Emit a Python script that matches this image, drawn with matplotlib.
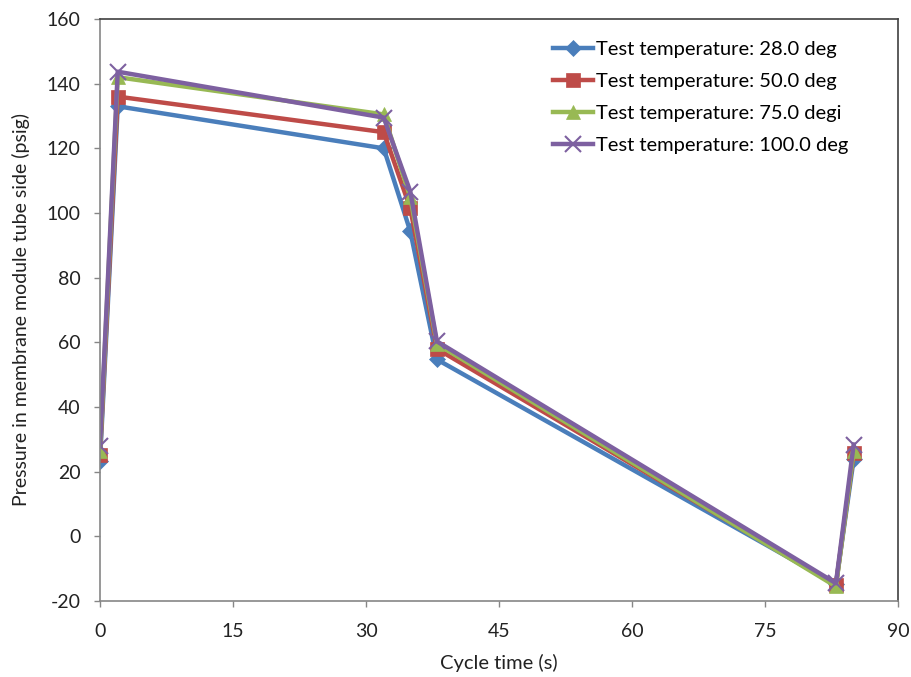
import matplotlib
matplotlib.use("Agg")
from matplotlib import pyplot as plt

plt.rcParams["font.family"] = ["Lato", "DejaVu Sans"]
plt.rcParams["axes.unicode_minus"] = False

cycle_time = [0, 2, 32, 35, 38, 83, 85]

p_28 = [23.2, 133.0, 120.0, 94.3, 54.7, -14.8, 23.8]
p_50 = [25.3, 136.0, 125.0, 101.4, 58.0, -15.0, 25.7]
p_75 = [26.3, 142.0, 130.5, 104.8, 59.5, -15.5, 26.3]
p_100 = [28.0, 143.7, 129.5, 106.6, 60.3, -14.5, 28.4]

labels = [
    "Test temperature: 28.0 deg",
    "Test temperature: 50.0 deg",
    "Test temperature: 75.0 degi",
    "Test temperature: 100.0 deg",
]

x_ticks = [0, 15, 30, 45, 60, 75, 90]
y_ticks = [-20, 0, 20, 40, 60, 80, 100, 120, 140, 160]

fig = plt.figure(figsize=(9.11, 6.77), dpi=100)
ax = fig.add_axes([100 / 911, 76 / 677, 798 / 911, 582 / 677])

styles = [
    (p_28, "#4A7EBB", "D", 8),
    (p_50, "#BE4B48", "s", 10),
    (p_75, "#98B954", "^", 10),
    (p_100, "#7D60A0", "x", 11),
]
for (vals, color, marker, ms), label in zip(styles, labels):
    ax.plot(cycle_time, vals, color=color, lw=3.2, marker=marker,
            markersize=ms, markeredgewidth=1.5 if marker == "x" else 0.5,
            markeredgecolor=color, label=label)

ax.set_xlim(0, 90)
ax.set_ylim(-20, 160)
ax.set_xticks(x_ticks)
ax.set_yticks(y_ticks)
ax.tick_params(axis="both", direction="out", length=4, width=1,
               color="#868686", labelsize=14, labelcolor="#222222")
ax.tick_params(axis="x", pad=12)
ax.tick_params(axis="y", pad=10)

for side in ("left", "bottom"):
    ax.spines[side].set_color("#868686")
    ax.spines[side].set_linewidth(1.2)
for side in ("top", "right"):
    ax.spines[side].set_color("#404040")
    ax.spines[side].set_linewidth(1.2)

ax.set_xlabel("Cycle time (s)", fontsize=14.5, color="#222222", labelpad=10)
ax.set_ylabel("Pressure in membrane module tube side (psig)", fontsize=14,
              color="#222222", labelpad=12)

ax.legend(loc="upper left", bbox_to_anchor=((553 - 100) / 798, 0.963),
          frameon=False, fontsize=14.5, handlelength=2.0, handletextpad=0.15,
          labelspacing=0.75, borderpad=0, borderaxespad=0)

fig.savefig("out.png", dpi=100)
